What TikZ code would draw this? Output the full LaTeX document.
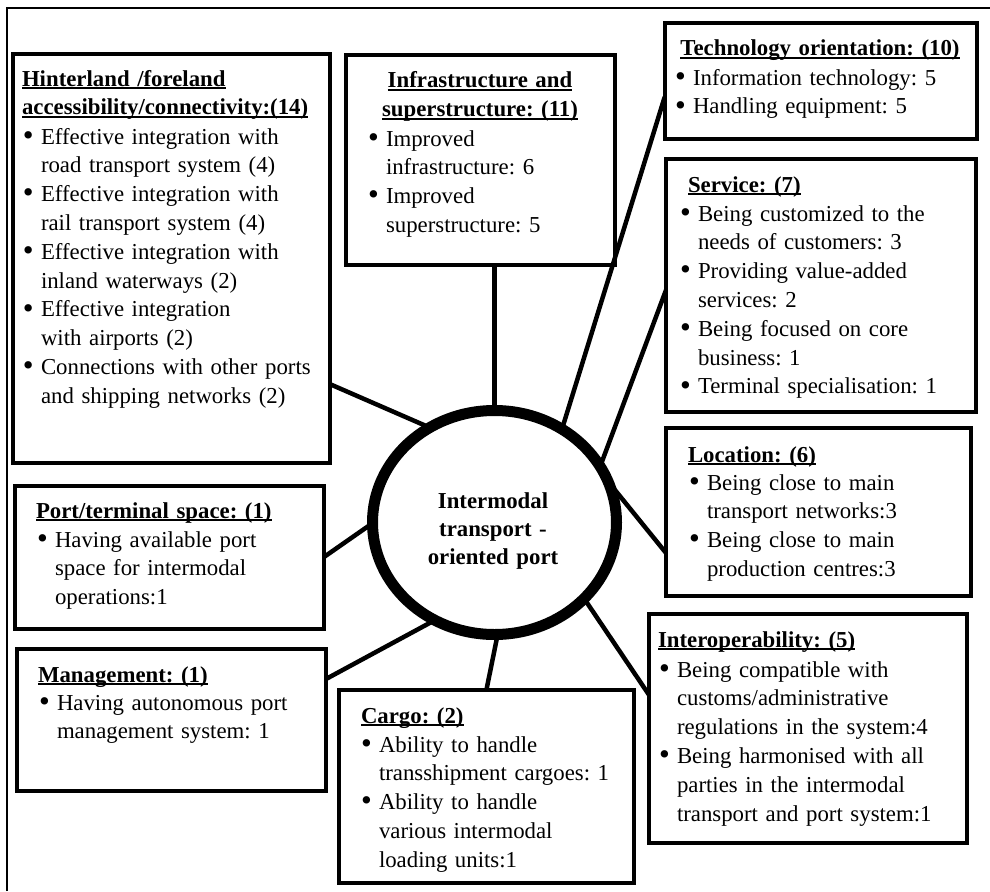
\documentclass[tikz,border=0pt]{standalone}
\usepackage{fontspec}
\usepackage{graphicx}
\setmainfont{Liberation Serif}
\usetikzlibrary{calc,shapes.geometric}
\setlength{\parindent}{0pt}
\frenchspacing
\newsavebox\hdbox
% bold underlined heading line
\newcommand\hd[1]{\leavevmode\sbox\hdbox{\bfseries #1}\rlap{\rule[-3pt]{\wd\hdbox}{1.6pt}}\usebox\hdbox}
% bulleted line and its continuation line
\newcommand\bl[1]{\leavevmode\makebox[18pt][l]{\raisebox{-1.2pt}{\scalebox{1.35}{\textbullet}}}#1}
\newcommand\ct[1]{\leavevmode\hspace*{18pt}#1}
\pgfdeclarelayer{bg}
\pgfsetlayers{bg,main}

\begin{document}
\begin{tikzpicture}[x=1pt,y=-1pt,
  box/.style={draw, line width=4pt, rectangle, inner sep=0pt, outer sep=0pt, anchor=north west},
  conn/.style={line width=4.5pt, shorten >=-7pt},
  txt/.style={anchor=base west, inner sep=0pt, outer sep=0pt, align=left, text width=320pt,
    font=\fontsize{22.8}{28.8}\selectfont},
  hdc/.style={anchor=base, inner sep=0pt, outer sep=0pt, align=center, text width=300pt,
    font=\fontsize{22.8}{28.8}\selectfont},
]
\useasboundingbox (0,0) rectangle (990,891);
\draw[line width=2pt] (6.5,891) -- (6.5,8) -- (990,8);

% category boxes
\node[box, minimum width=317pt,   minimum height=408.5pt] (hin) at (13,54.5) {};
\node[box, minimum width=269.2pt, minimum height=209.5pt] (inf) at (345.5,55) {};
\node[box, minimum width=312.3pt, minimum height=115.5pt] (tec) at (664.7,23) {};
\node[box, minimum width=310pt,   minimum height=252.5pt] (ser) at (666,159) {};
\node[box, minimum width=305pt,   minimum height=168pt]   (loc) at (666,427.5) {};
\node[box, minimum width=318pt,   minimum height=228.5pt] (int) at (649,614) {};
\node[box, minimum width=295pt,   minimum height=193pt]   (car) at (339,689.5) {};
\node[box, minimum width=309.5pt, minimum height=141.5pt] (man) at (16.5,649) {};
\node[box, minimum width=309.5pt, minimum height=143pt]   (por) at (14.5,485.5) {};

% central node
\node[ellipse, draw, line width=11pt, fill=white, minimum width=244pt, minimum height=224pt,
  inner sep=0pt] (c) at (494.5,522.5) {};
\node[hdc, text width=230pt, font=\fontsize{22.8}{28.3}\selectfont\bfseries] (cT) at (493,508)
  {Intermodal\\transport -\\oriented port};

% spokes
\begin{pgfonlayer}{bg}
\draw[conn] ($(hin.north east)!0.807!(hin.south east)$) -- (c.126.3);
\draw[conn] (inf.south -| c.north) -- (c.north);
\draw[conn] ($(tec.north west)!0.64!(tec.south west)$) -- (c.55.8);
\draw[conn] ($(ser.north west)!0.519!(ser.south west)$) -- (c.30);
\draw[conn] ($(loc.north west)!0.747!(loc.south west)$) -- (c.13.4);
\draw[conn] ($(int.north west)!0.354!(int.south west)$) -- (c.-41.7);
\draw[conn] (car.north) -- (c.-89);
\draw[conn] ($(man.north east)!0.212!(man.south east)$) -- (c.-123.5);
\draw[conn] (por.east) -- (c.182);
\end{pgfonlayer}

% box texts
\node[txt] (hinH) at (22,86) {\hd{Hinterland /foreland}\\\hd{accessibility/connectivity:(14)}};
\node[txt] (hinB) at (23,144) {\bl{Effective integration with}\\\ct{road transport system (4)}\\
  \bl{Effective integration with}\\\ct{rail transport system (4)}\\
  \bl{Effective integration with}\\\ct{inland waterways (2)}\\
  \bl{Effective integration}\\\ct{with airports (2)}\\
  \bl{Connections with other ports}\\\ct{and shipping networks (2)}};

\node[hdc] (infH) at (480,88) {\hd{Infrastructure and}\\\hd{superstructure: (11)}};
\node[txt] (infB) at (368,146) {\bl{Improved}\\\ct{infrastructure: 6}\\
  \bl{Improved}\\\ct{superstructure: 5}};

\node[hdc] (tecH) at (820,56) {\hd{Technology orientation: (10)}};
\node[txt] (tecB) at (675,85) {\bl{Information technology: 5}\\\bl{Handling equipment: 5}};

\node[txt] (serH) at (688,192) {\hd{Service: (7)}};
\node[txt] (serB) at (680,221) {\bl{Being customized to the}\\\ct{needs of customers: 3}\\
  \bl{Providing value-added}\\\ct{services: 2}\\
  \bl{Being focused on core}\\\ct{business: 1}\\
  \bl{Terminal specialisation: 1}};

\node[txt] (locH) at (688,462) {\hd{Location: (6)}};
\node[txt] (locB) at (689,490) {\bl{Being close to main}\\\ct{transport networks:3}\\
  \bl{Being close to main}\\\ct{production centres:3}};

\node[txt] (intH) at (658,647) {\hd{Interoperability: (5)}};
\node[txt] (intB) at (659,677) {\bl{Being compatible with}\\\ct{customs/administrative}\\
  \ct{regulations in the system:4}\\
  \bl{Being harmonised with all}\\\ct{parties in the intermodal}\\\ct{transport and port system:1}};

\node[txt] (carH) at (361,723) {\hd{Cargo: (2)}};
\node[txt] (carB) at (361,752) {\bl{Ability to handle}\\\ct{transshipment cargoes: 1}\\
  \bl{Ability to handle}\\\ct{various intermodal}\\\ct{loading units:1}};

\node[txt] (manH) at (38,682) {\hd{Management: (1)}};
\node[txt] (manB) at (39,710) {\bl{Having autonomous port}\\\ct{management system: 1}};

\node[txt] (porH) at (36,518) {\hd{Port/terminal space: (1)}};
\node[txt] (porB) at (37,547) {\bl{Having available port}\\\ct{space for intermodal}\\\ct{operations:1}};
\end{tikzpicture}
\end{document}
